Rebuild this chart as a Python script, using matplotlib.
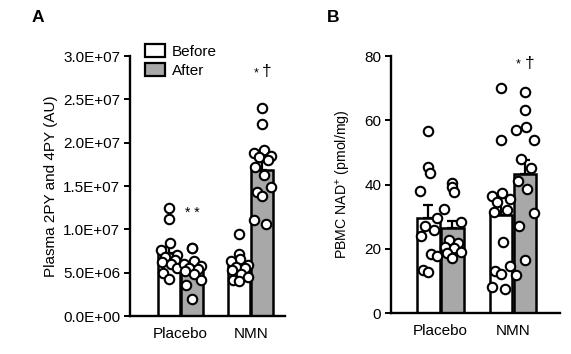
import numpy as np
import matplotlib
matplotlib.use("Agg")
import matplotlib.pyplot as plt
from matplotlib.ticker import FuncFormatter
from matplotlib.patches import Patch

plt.rcParams['font.family'] = ['Liberation Sans', 'DejaVu Sans']
plt.rcParams['mathtext.fontset'] = 'custom'
plt.rcParams['mathtext.rm'] = 'Liberation Sans'

groups = ['Placebo', 'NMN']

# panel A: plasma 2PY and 4PY (AU), values in units of 1e6
a_means_before = [7.25, 5.75]
a_means_after = [5.45, 16.9]
a_sem_before = [0.7, 0.4]
a_sem_after = [0.5, 0.9]
a_pts_placebo_before = [12.5, 11.2, 8.4, 7.6, 7.0, 6.8, 6.5, 6.2, 6.0, 5.5, 5.0, 4.3]
a_pts_placebo_after = [7.8, 7.8, 6.3, 6.0, 5.8, 5.5, 5.4, 5.2, 4.8, 4.2, 3.6, 2.0]
a_pts_nmn_before = [9.5, 7.1, 6.6, 6.3, 5.9, 5.6, 5.5, 5.3, 4.8, 4.5, 4.2, 4.0]
a_pts_nmn_after = [24.0, 22.1, 19.2, 18.8, 18.5, 18.4, 18.0, 17.2, 16.3, 14.9, 14.3, 13.8, 11.1, 10.6]

# panel B: PBMC NAD+ (pmol/mg)
b_means_before = [29.6, 30.5]
b_means_after = [26.4, 43.3]
b_sem_before = [3.9, 5.3]
b_sem_after = [2.3, 4.4]
b_pts_placebo_before = [56.7, 45.5, 43.7, 37.9, 29.5, 27.0, 25.8, 24.1, 18.3, 17.8, 13.5, 12.8]
b_pts_placebo_after = [40.6, 39.3, 37.8, 32.3, 28.4, 22.7, 21.7, 20.6, 20.1, 19.1, 18.6, 17.0]
b_pts_nmn_before = [70.0, 54.0, 37.5, 36.5, 35.5, 34.5, 32.0, 31.5, 22.0, 14.5, 13.0, 12.0, 8.0, 7.5]
b_pts_nmn_after = [68.9, 63.2, 58.0, 57.0, 53.8, 47.8, 45.2, 41.1, 38.5, 31.2, 27.1, 16.5, 11.8]

GREY = '#a8a8a8'
BW = 0.31
OFF = 0.165
JIT = [0.0, 0.0, 0.02, -0.12, 0.12, -0.05, 0.08, -0.1, 0.03, 0.12, -0.08, 0.0, -0.12, 0.06]


def draw_panel(ax, mb, ma, sb, sa, pts, scale):
    x = np.arange(len(groups))
    for xs, means, sems, col in [(x - OFF, mb, sb, 'white'), (x + OFF, ma, sa, GREY)]:
        m = np.array(means) * scale
        s = np.array(sems) * scale
        ax.bar(xs, m, width=BW, color=col, edgecolor='black', linewidth=1.8, zorder=2)
        ax.errorbar(xs, m, yerr=[np.zeros_like(s), s], fmt='none', ecolor='black',
                    elinewidth=1.6, capsize=3.5, capthick=1.6, zorder=3)
    centers = [x[0] - OFF, x[0] + OFF, x[1] - OFF, x[1] + OFF]
    for c, vals in zip(centers, pts):
        v = np.array(vals) * scale
        jx = c + np.array(JIT[:len(v)])
        ax.plot(jx, v, 'o', ms=6.8, mfc='white', mec='black', mew=1.5, zorder=4)
    ax.spines['top'].set_visible(False)
    ax.spines['right'].set_visible(False)
    ax.spines['left'].set_linewidth(1.7)
    ax.spines['bottom'].set_linewidth(1.7)
    ax.set_xticks(x)
    ax.set_xticklabels(groups, fontsize=11)
    ax.tick_params(axis='x', length=0, pad=8)
    ax.tick_params(axis='y', length=4, width=1.4, labelsize=11, pad=3)


fig = plt.figure(figsize=(5.71, 3.54), dpi=100)

axA = fig.add_axes([0.2277, 0.1073, 0.2715, 0.7345])
draw_panel(axA, a_means_before, a_means_after, a_sem_before, a_sem_after,
           [a_pts_placebo_before, a_pts_placebo_after, a_pts_nmn_before, a_pts_nmn_after], 1e6)
axA.set_xlim(-0.72, 1.49)
axA.set_ylim(0, 3e7)
axA.set_yticks(np.arange(0, 3.01e7, 5e6))
axA.yaxis.set_major_formatter(FuncFormatter(lambda v, p: f"{v:.1E}"))
axA.set_ylabel('Plasma 2PY and 4PY (AU)', fontsize=11, labelpad=4)
axA.text(0 + OFF, 11.9e6, '* *', ha='center', va='center', fontsize=10)
axA.text(1 + OFF - 0.09, 28.0e6, '*', ha='center', va='center', fontsize=9)
axA.text(1 + OFF + 0.06, 28.2e6, '†', ha='center', va='center', fontsize=12.5)
leg = axA.legend(handles=[Patch(facecolor='white', edgecolor='black', linewidth=1.6, label='Before'),
                          Patch(facecolor=GREY, edgecolor='black', linewidth=1.6, label='After')],
                 loc='upper left', bbox_to_anchor=(0.06, 1.07), frameon=False, fontsize=11,
                 handlelength=1.3, handleheight=0.9, handletextpad=0.45, labelspacing=0.3,
                 borderaxespad=0)

axB = fig.add_axes([0.6848, 0.1158, 0.296, 0.726])
draw_panel(axB, b_means_before, b_means_after, b_sem_before, b_sem_after,
           [b_pts_placebo_before, b_pts_placebo_after, b_pts_nmn_before, b_pts_nmn_after], 1.0)
axB.set_xlim(-0.68, 1.65)
axB.set_ylim(0, 80)
axB.set_yticks([0, 20, 40, 60, 80])
axB.set_ylabel('PBMC NAD$^{+}$ (pmol/mg)', fontsize=10.2, labelpad=8)
axB.text(1 + OFF - 0.09, 77.3, '*', ha='center', va='center', fontsize=9)
axB.text(1 + OFF + 0.06, 77.8, '†', ha='center', va='center', fontsize=12.5)

fig.text(38 / 571, 1 - 18 / 354, 'A', fontsize=12.5, fontweight='bold', ha='center', va='center')
fig.text(333 / 571, 1 - 18 / 354, 'B', fontsize=12.5, fontweight='bold', ha='center', va='center')

fig.savefig('out.png', dpi=100)
